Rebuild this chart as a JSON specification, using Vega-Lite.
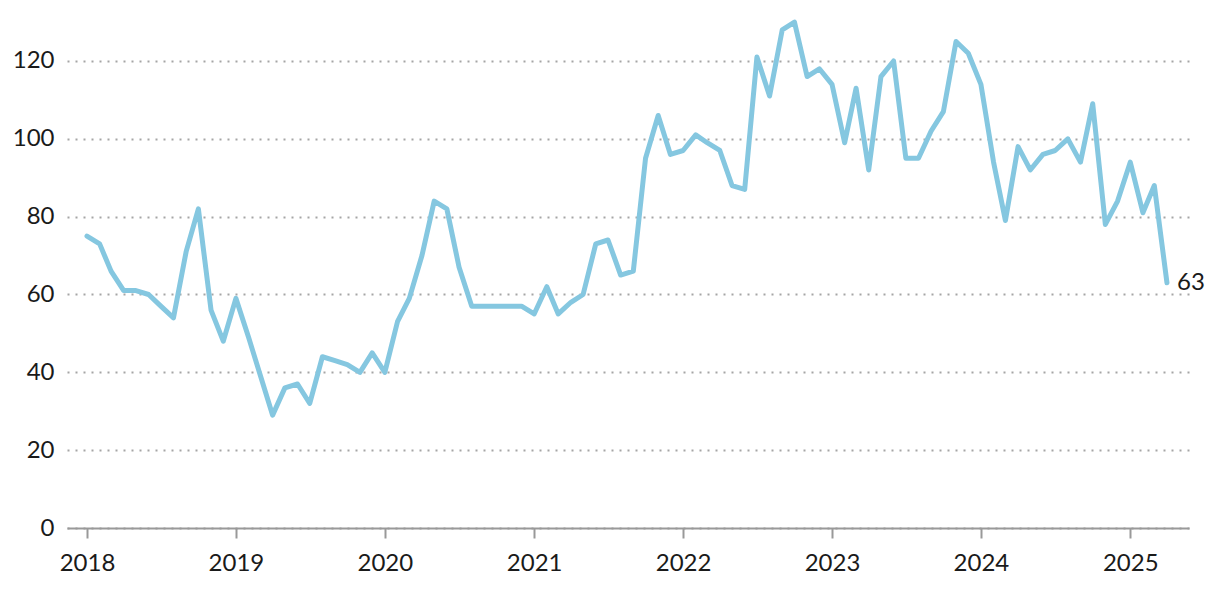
{
  "$schema": "https://vega.github.io/schema/vega-lite/v6.json",
  "autosize": "none",
  "width": 1122,
  "height": 518,
  "padding": {"left": 67, "top": 10, "right": 31, "bottom": 64},
  "background": "white",
  "config": {"view": {"stroke": null}, "font": "Lato"},
  "data": {"values": [
    {"date": "2018-01-01", "v": 75}, {"date": "2018-02-01", "v": 73}, {"date": "2018-03-01", "v": 66}, {"date": "2018-04-01", "v": 61},
    {"date": "2018-05-01", "v": 61}, {"date": "2018-06-01", "v": 60}, {"date": "2018-07-01", "v": 57}, {"date": "2018-08-01", "v": 54},
    {"date": "2018-09-01", "v": 71}, {"date": "2018-10-01", "v": 82}, {"date": "2018-11-01", "v": 56}, {"date": "2018-12-01", "v": 48},
    {"date": "2019-01-01", "v": 59}, {"date": "2019-02-01", "v": 49}, {"date": "2019-03-01", "v": 39.5}, {"date": "2019-04-01", "v": 29},
    {"date": "2019-05-01", "v": 36}, {"date": "2019-06-01", "v": 37}, {"date": "2019-07-01", "v": 32}, {"date": "2019-08-01", "v": 44},
    {"date": "2019-09-01", "v": 43}, {"date": "2019-10-01", "v": 42}, {"date": "2019-11-01", "v": 40}, {"date": "2019-12-01", "v": 45},
    {"date": "2020-01-01", "v": 40}, {"date": "2020-02-01", "v": 53}, {"date": "2020-03-01", "v": 59}, {"date": "2020-04-01", "v": 70},
    {"date": "2020-05-01", "v": 84}, {"date": "2020-06-01", "v": 82}, {"date": "2020-07-01", "v": 67}, {"date": "2020-08-01", "v": 57},
    {"date": "2020-09-01", "v": 57}, {"date": "2020-10-01", "v": 57}, {"date": "2020-11-01", "v": 57}, {"date": "2020-12-01", "v": 57},
    {"date": "2021-01-01", "v": 55}, {"date": "2021-02-01", "v": 62}, {"date": "2021-03-01", "v": 55}, {"date": "2021-04-01", "v": 58},
    {"date": "2021-05-01", "v": 60}, {"date": "2021-06-01", "v": 73}, {"date": "2021-07-01", "v": 74}, {"date": "2021-08-01", "v": 65},
    {"date": "2021-09-01", "v": 66}, {"date": "2021-10-01", "v": 95}, {"date": "2021-11-01", "v": 106}, {"date": "2021-12-01", "v": 96},
    {"date": "2022-01-01", "v": 97}, {"date": "2022-02-01", "v": 101}, {"date": "2022-03-01", "v": 99}, {"date": "2022-04-01", "v": 97},
    {"date": "2022-05-01", "v": 88}, {"date": "2022-06-01", "v": 87}, {"date": "2022-07-01", "v": 121}, {"date": "2022-08-01", "v": 111},
    {"date": "2022-09-01", "v": 128}, {"date": "2022-10-01", "v": 130}, {"date": "2022-11-01", "v": 116}, {"date": "2022-12-01", "v": 118},
    {"date": "2023-01-01", "v": 114}, {"date": "2023-02-01", "v": 99}, {"date": "2023-03-01", "v": 113}, {"date": "2023-04-01", "v": 92},
    {"date": "2023-05-01", "v": 116}, {"date": "2023-06-01", "v": 120}, {"date": "2023-07-01", "v": 95}, {"date": "2023-08-01", "v": 95},
    {"date": "2023-09-01", "v": 102}, {"date": "2023-10-01", "v": 107}, {"date": "2023-11-01", "v": 125}, {"date": "2023-12-01", "v": 122},
    {"date": "2024-01-01", "v": 114}, {"date": "2024-02-01", "v": 94}, {"date": "2024-03-01", "v": 79}, {"date": "2024-04-01", "v": 98},
    {"date": "2024-05-01", "v": 92}, {"date": "2024-06-01", "v": 96}, {"date": "2024-07-01", "v": 97}, {"date": "2024-08-01", "v": 100},
    {"date": "2024-09-01", "v": 94}, {"date": "2024-10-01", "v": 109}, {"date": "2024-11-01", "v": 78}, {"date": "2024-12-01", "v": 84},
    {"date": "2025-01-01", "v": 94}, {"date": "2025-02-01", "v": 81}, {"date": "2025-03-01", "v": 88}, {"date": "2025-04-01", "v": 63}
  ]},
  "encoding": {
    "x": {
      "field": "date", "type": "temporal", "title": null,
      "scale": {"domain": ["2017-11-13", "2025-05-25"]},
      "axis": {
        "tickCount": {"interval": "year", "step": 1}, "format": "%Y", "grid": false,
        "domainColor": "#999999", "domainWidth": 2, "tickColor": "#999999", "tickWidth": 2, "tickSize": 10,
        "labelFontSize": 24, "labelColor": "#1a1a1a", "labelPadding": 13, "labelFlush": false, "labelFont": "Lato"
      }
    },
    "y": {
      "field": "v", "type": "quantitative", "title": null,
      "scale": {"domain": [0, 133.1], "nice": false},
      "axis": {
        "values": [0, 20, 40, 60, 80, 100, 120], "domain": false, "ticks": false,
        "grid": true, "gridColor": "#a5a5a5", "gridDash": [2, 6], "gridWidth": 2,
        "labelFontSize": 24, "labelColor": "#1a1a1a", "labelPadding": 13, "labelFont": "Lato"
      }
    }
  },
  "layer": [
    {"mark": {"type": "line", "color": "#85c7e0", "strokeWidth": 5, "strokeJoin": "round", "strokeCap": "round"}},
    {
      "transform": [{"filter": "utcyear(datum.date) == 2025 && utcmonth(datum.date) == 3"}],
      "mark": {"type": "text", "align": "left", "baseline": "middle", "dx": 10, "fontSize": 24, "color": "#1a1a1a", "font": "Lato"},
      "encoding": {"text": {"field": "v", "type": "quantitative"}}
    }
  ]
}
